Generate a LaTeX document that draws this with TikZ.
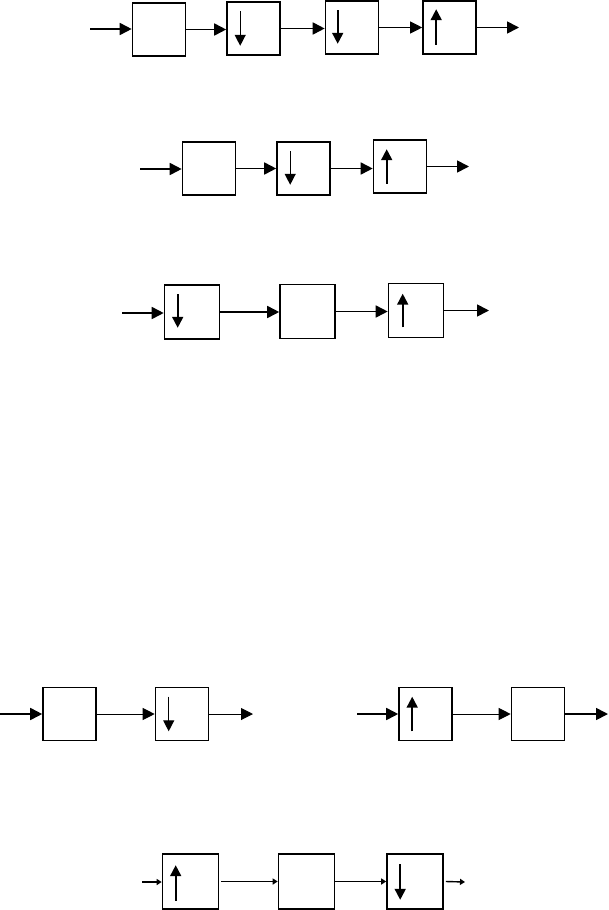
\documentclass[tikz,border=0pt]{standalone}
\usetikzlibrary{arrows.meta,calc}
\begin{document}
\begin{tikzpicture}[x=1pt,y=-1pt,
  box/.style={draw,line width=1.6pt,minimum width=53pt,minimum height=53pt,inner sep=0pt},
  conn/.style={line width=1.7pt,-{Triangle[length=12pt,width=12pt]}},
  thinconn/.style={line width=1pt,-{Triangle[length=12pt,width=12pt]}},
  smallconn/.style={line width=1.4pt,-{Triangle[length=5pt,width=6pt]}},
  inarrow/.style={line width=1.3pt,-{Triangle[length=11pt,width=11pt]}},
  inarrowthick/.style={line width=1.8pt,-{Triangle[length=11pt,width=11pt]}}]
\useasboundingbox (0,0) rectangle (609,910);
% Row 1
\node[box] (b11) at (159,29.5) {};
\node[box] (b12) at (253.5,28.5) {};
\node[box] (b13) at (352,27.5) {};
\node[box] (b14) at (449.5,27.5) {};
\coordinate (i1) at (90,29);
\coordinate (o1) at (519,27.5);
\draw[conn] (i1) -- (i1 -| b11.west);
\draw[conn] (b11.east) -- (b11.east -| b12.west);
\draw[conn] (b12.east) -- (b12.east -| b13.west);
\draw[thinconn] (b13.east) -- (b13.east -| b14.west);
\draw[conn] (b14.east) -- (o1);
\draw[inarrow] ($(b12.north west)+(14,10)$) -- ($(b12.south west)+(14,-10)$);
\draw[inarrowthick] ($(b13.north west)+(13,10)$) -- ($(b13.south west)+(13,-11)$);
\draw[inarrowthick] ($(b14.south west)+(14,-10)$) -- ($(b14.north west)+(14,9)$);
% Row 2
\node[box] (b21) at (209,168.5) {};
\node[box] (b22) at (303.5,168.5) {};
\node[box] (b23) at (400,166.5) {};
\coordinate (i2) at (140,169);
\coordinate (o2) at (469,166.5);
\draw[conn] (i2) -- (i2 -| b21.west);
\draw[conn] (b21.east) -- (b21.east -| b22.west);
\draw[conn] (b22.east) -- (b22.east -| b23.west);
\draw[conn] (b23.east) -- (o2);
\draw[inarrow] ($(b22.north west)+(14,10)$) -- ($(b22.south west)+(14,-11)$);
\draw[inarrowthick] ($(b23.south west)+(14,-10)$) -- ($(b23.north west)+(14,10)$);
% Row 3
\node[box,minimum width=55pt,minimum height=54pt] (b31) at (192,312) {};
\node[box,minimum width=55pt,minimum height=54pt] (b32) at (307.5,311.5) {};
\node[box,minimum width=55pt,minimum height=54pt] (b33) at (416,310.5) {};
\coordinate (i3) at (122,313);
\coordinate (o3) at (489,310.5);
\draw[conn] (i3) -- (i3 -| b31.west);
\draw[conn] (b31.east) -- (b31.east -| b32.west);
\draw[conn] (b32.east) -- (b32.east -| b33.west);
\draw[conn] (b33.east) -- (o3);
\draw[inarrowthick] ($(b31.north west)+(14,10)$) -- ($(b31.south west)+(14,-12)$);
\draw[inarrowthick] ($(b33.south west)+(15,-11)$) -- ($(b33.north west)+(15,11)$);
% Row 4
\node[box] (b41) at (69.5,714) {};
\node[box] (b42) at (182,714) {};
\node[box] (b43) at (425.5,714) {};
\node[box] (b44) at (538,714) {};
\coordinate (i4) at (0,714);
\coordinate (o4) at (253,714);
\coordinate (i5) at (357,714);
\coordinate (o5) at (608,714);
\draw[conn] (i4) -- (b41.west);
\draw[thinconn] (b41.east) -- (b42.west);
\draw[thinconn] (b42.east) -- (o4);
\draw[conn] (i5) -- (b43.west);
\draw[thinconn] (b43.east) -- (b44.west);
\draw[conn] (b44.east) -- (o5);
\draw[inarrow] ($(b42.north west)+(14,10)$) -- ($(b42.south west)+(14,-10)$);
\draw[inarrowthick] ($(b43.south west)+(14,-10)$) -- ($(b43.north west)+(14,10)$);
% Row 5
\node[box,minimum width=56pt,minimum height=55pt] (b51) at (190.5,881.5) {};
\node[box,minimum width=56pt,minimum height=55pt] (b52) at (306.5,881.5) {};
\node[box,minimum width=56pt,minimum height=55pt] (b53) at (415,881.5) {};
\coordinate (i6) at (142,882);
\coordinate (o6) at (465,882);
\draw[smallconn] (i6) -- (i6 -| b51.west);
\draw[smallconn] ([xshift=2pt]b51.east) -- (b52.west);
\draw[smallconn] (b52.east) -- (b53.west);
\draw[smallconn] ([xshift=2pt]b53.east) -- (o6);
\draw[inarrowthick] ($(b51.south west)+(14,-9)$) -- ($(b51.north west)+(14,12)$);
\draw[inarrowthick] ($(b53.north west)+(14,11)$) -- ($(b53.south west)+(14,-10)$);
\end{tikzpicture}
\end{document}
